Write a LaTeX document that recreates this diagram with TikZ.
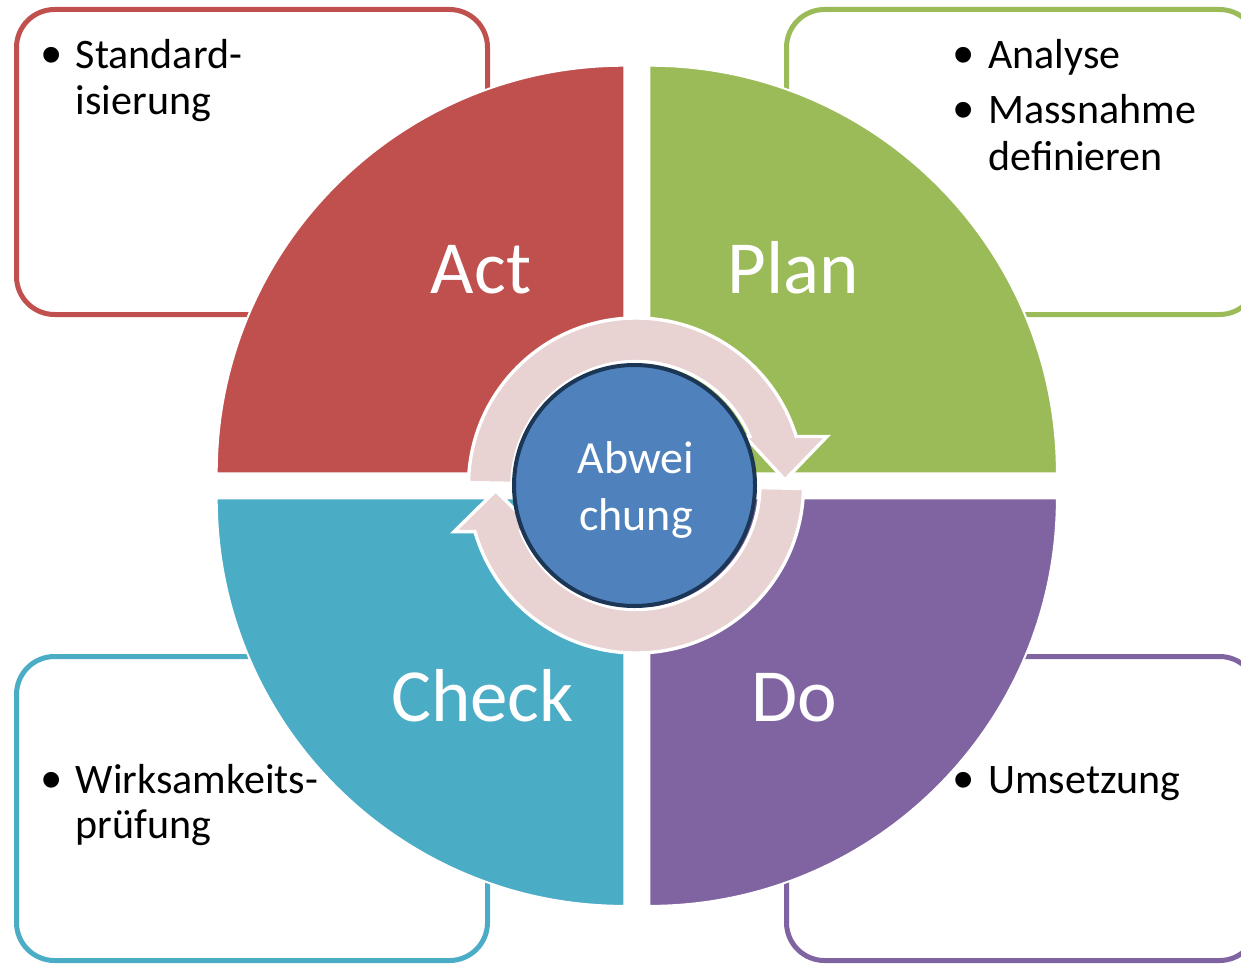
\documentclass[tikz,border=0pt]{standalone}
\usepackage{fontspec}
\setmainfont{Carlito}
\newfontfamily\bulletfont{Liberation Sans}
\usetikzlibrary{calc}

\definecolor{actred}{HTML}{C0504D}
\definecolor{plangreen}{HTML}{9BBB59}
\definecolor{checkteal}{HTML}{4BACC6}
\definecolor{dopurple}{HTML}{8064A2}
\definecolor{hubblue}{HTML}{4F81BD}
\definecolor{hubrim}{HTML}{1C3656}
\definecolor{ringpink}{HTML}{E8D2D2}

\tikzset{
  quadrant/.style={fill=#1, draw=white, line width=1pt},
  infobox/.style={draw=#1, line width=2.5pt, rounded corners=19pt, fill=white},
  boxtext/.style={anchor=base west, inner sep=0pt, text=black,
                  font=\fontsize{21}{23.5}\selectfont},
  bulletmark/.style={anchor=base, inner sep=0pt, text=black, yshift=-3pt, xshift=1pt,
                  font=\bulletfont\fontsize{29}{30}\selectfont},
  phase/.style={anchor=base, inner sep=0pt, text=white,
                  font=\fontsize{37.5}{40}\selectfont},
  hubtext/.style={anchor=base, inner sep=0pt, text=white,
                  font=\fontsize{23}{26}\selectfont},
  cyclearrow/.style={fill=ringpink, draw=white, line width=1.7pt, line join=miter},
}

\begin{document}
\begin{tikzpicture}[x=0.5pt, y=0.5pt]
  \useasboundingbox (0,0) rectangle (1241,-963);
  \clip (0,0) rectangle (1241,-963);

  % description boxes (behind the quadrants)
  \draw[infobox=actred]     (16.5,-9.5)   rectangle (487.5,-314.5);
  \draw[infobox=plangreen]  (786.5,-9.5)  rectangle (1257.5,-314.5);
  \draw[infobox=checkteal]  (16.5,-656.5) rectangle (487.5,-960.5);
  \draw[infobox=dopurple]   (786.5,-656.5) rectangle (1257.5,-960.5);

  % the four PDCA quadrants
  \draw[quadrant=actred]    (624.3,-473.3) -- ++(-407.6,0)
        arc[start angle=180, end angle=90, radius=407.6] -- cycle;
  \draw[quadrant=plangreen] (649.3,-473.3) -- ++(0,407.6)
        arc[start angle=90, end angle=0, radius=407.6] -- cycle;
  \draw[quadrant=checkteal] (624.3,-498.3) -- ++(0,-407.6)
        arc[start angle=270, end angle=180, radius=407.6] -- cycle;
  \draw[quadrant=dopurple]  (649.3,-498.3) -- ++(407.6,0)
        arc[start angle=0, end angle=-90, radius=407.6] -- cycle;

  % circular arrows around the hub
  \begin{scope}[shift={(636,-485.5)}]
    \draw[cyclearrow] (179:124) -- (179:167.5)
        arc[start angle=179, end angle=17.0, radius=167.5]
        -- (191,49) -- (149,5.5) -- (109,49) -- (113.9,49)
        arc[start angle=23.28, end angle=179, radius=124] -- cycle;
    \draw[cyclearrow] (-1:124) -- (-1:167.5)
        arc[start angle=-1, end angle=-164.0, radius=167.5]
        -- (-182,-46.2) -- (-140.3,-5.2) -- (-98.6,-46.2) -- (-115.1,-46.2)
        arc[start angle=-158.12, end angle=-1, radius=124] -- cycle;
  \end{scope}

  % hub
  \node[circle, fill=hubblue, draw=hubrim, line width=2pt, minimum size=120.5pt,
        inner sep=0pt] (hub) at (634.5,-485.5) {};
  \node[hubtext] (hubA) at (636,-473.3) {Abwei};
  \node[hubtext] (hubB) at (636,-530) {chung};

  % quadrant labels
  \node[phase] (act)   at (481,-293.3)   {Act};
  \node[phase] (plan)  at (793.5,-293.3) {Plan};
  \node[phase] (check) at (482.5,-721.7) {Check};
  \node[phase] (do)    at (794,-721.7)   {Do};

  % box contents
  \node[bulletmark] (actB)  at (50,-68.3) {•};
  \node[boxtext] (actT1) at (75.5,-68.3) {Standard-};
  \node[boxtext] (actT2) at (75.5,-115)  {isierung};

  \node[bulletmark] (planB1) at (961.7,-68.3)  {•};
  \node[boxtext] (planT1) at (988,-68.3)  {Analyse};
  \node[bulletmark] (planB2) at (961.7,-123.3) {•};
  \node[boxtext] (planT2) at (988,-123.3) {Massnahme};
  \node[boxtext] (planT3) at (988,-170)   {definieren};

  \node[bulletmark] (checkB) at (50,-793.3) {•};
  \node[boxtext] (checkT1) at (75.5,-793.3) {Wirksamkeits-};
  \node[boxtext] (checkT2) at (75.5,-838.3) {prüfung};

  \node[bulletmark] (doB) at (961.7,-793.3) {•};
  \node[boxtext] (doT1) at (988,-793.3) {Umsetzung};
\end{tikzpicture}
\end{document}
